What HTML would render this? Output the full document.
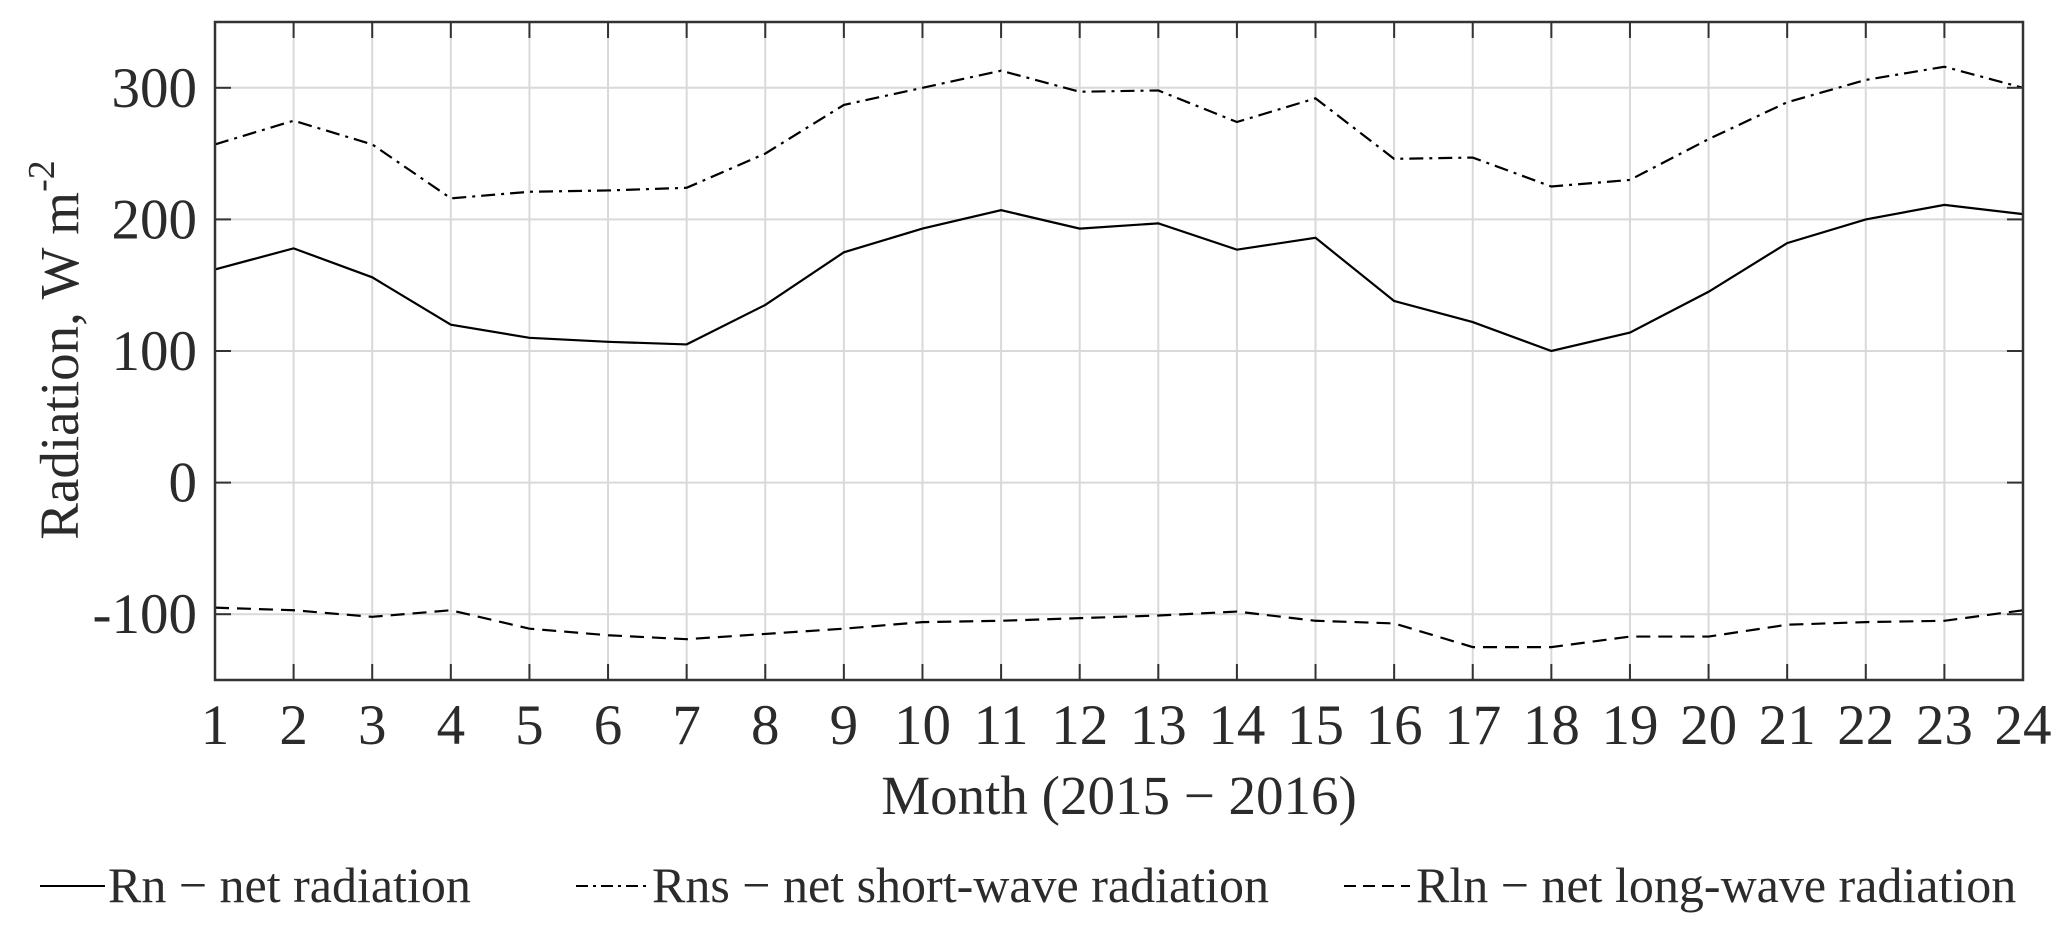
<!DOCTYPE html>
<html><head><meta charset="utf-8"><style>
body{margin:0;background:#fff}
svg text{font-family:"Liberation Serif",serif;fill:#2b2b2b}
</style></head><body>
<svg id="chart" width="2067" height="933" viewBox="0 0 2067 933" xmlns="http://www.w3.org/2000/svg">
<g id="grid"></g>
<g id="series"></g>
<g id="axes"></g>
<text x="1119" y="814" font-size="55" text-anchor="middle">Month (2015 − 2016)</text>
<text transform="translate(78,350) rotate(-90)" font-size="55" text-anchor="middle">Radiation, W m<tspan dy="-24" font-size="38">-2</tspan></text>
<g font-size="50">
<g><line x1="40" y1="886" x2="105" y2="886" stroke="#000" stroke-width="2"/><text x="108" y="902">Rn − net radiation</text></g>
<g><line x1="576" y1="886" x2="646" y2="886" stroke="#000" stroke-width="2" stroke-dasharray="12,5,3,5"/><text x="652" y="902">Rns − net short-wave radiation</text></g>
<g><line x1="1344" y1="886" x2="1410" y2="886" stroke="#000" stroke-width="2" stroke-dasharray="12,7"/><text x="1416" y="902">Rln − net long-wave radiation</text></g>
</g>
</svg>
<script>
const months=[1,2,3,4,5,6,7,8,9,10,11,12,13,14,15,16,17,18,19,20,21,22,23,24];
const rn=[162,178,156,120,110,107,105,135,175,193,207,193,197,177,186,138,122,100,114,145,182,200,211,204];
const rns=[257,275,257,216,221,222,224,250,287,300,313,297,298,274,292,246,247,225,230,261,289,306,316,300];
const rln=[-95,-97,-102,-97,-111,-116,-119,-115,-111,-106,-105,-103,-101,-98,-105,-107,-125,-125,-117,-117,-108,-106,-105,-97];
const yTicks=[-100,0,100,200,300];
const yTickLabels=["-100","0","100","200","300"];
const L=215,R=2023,T=22,B=680,xMin=1,xMax=24,yMin=-150,yMax=350;
const NS="http://www.w3.org/2000/svg";
const X=v=>L+(v-xMin)/(xMax-xMin)*(R-L);
const Y=v=>B-(v-yMin)/(yMax-yMin)*(B-T);
function mk(tag,parent,attrs){const e=document.createElementNS(NS,tag);for(const k in attrs)e.setAttribute(k,attrs[k]);document.getElementById(parent).appendChild(e);return e;}
months.forEach(m=>{
  const g=mk('line','grid',{x1:X(m),x2:X(m),y1:T,y2:B,stroke:'#d9d9d9','stroke-width':2});
  
  
  const t1=mk('line','axes',{x1:X(m),x2:X(m),y1:B,y2:B-16,stroke:'#333','stroke-width':2});
  
  
  const t2=mk('line','axes',{x1:X(m),x2:X(m),y1:T,y2:T+16,stroke:'#333','stroke-width':2});
  
  
  const lb=mk('text','axes',{x:X(m),y:B+64,'font-size':57,'text-anchor':'middle'});
  lb.textContent=m;
  
  
});
yTicks.forEach((v,i)=>{
  const g=mk('line','grid',{x1:L,x2:R,y1:Y(v),y2:Y(v),stroke:'#d9d9d9','stroke-width':2});
  
  
  const t1=mk('line','axes',{x1:L,x2:L+16,y1:Y(v),y2:Y(v),stroke:'#333','stroke-width':2});
  
  
  const t2=mk('line','axes',{x1:R,x2:R-16,y1:Y(v),y2:Y(v),stroke:'#333','stroke-width':2});
  
  
  const lb=mk('text','axes',{x:L-18,y:Y(v)+19,'font-size':57,'text-anchor':'end'});
  lb.textContent=yTickLabels[i];
  
  
});
const fr=mk('rect','axes',{x:L,y:T,width:R-L,height:B-T,fill:'none',stroke:'#333','stroke-width':2.5});


function line(data,dash,name){
  const p=mk('polyline','series',{points:data.map((v,i)=>X(months[i])+','+Y(v)).join(' '),fill:'none',stroke:'#000','stroke-width':2.2,'stroke-dasharray':dash});
  
  
}
line(rn,'none','rn-line');
line(rns,'14,6,3,6','rns-line');
line(rln,'14,8','rln-line');
</script>
</body></html>
